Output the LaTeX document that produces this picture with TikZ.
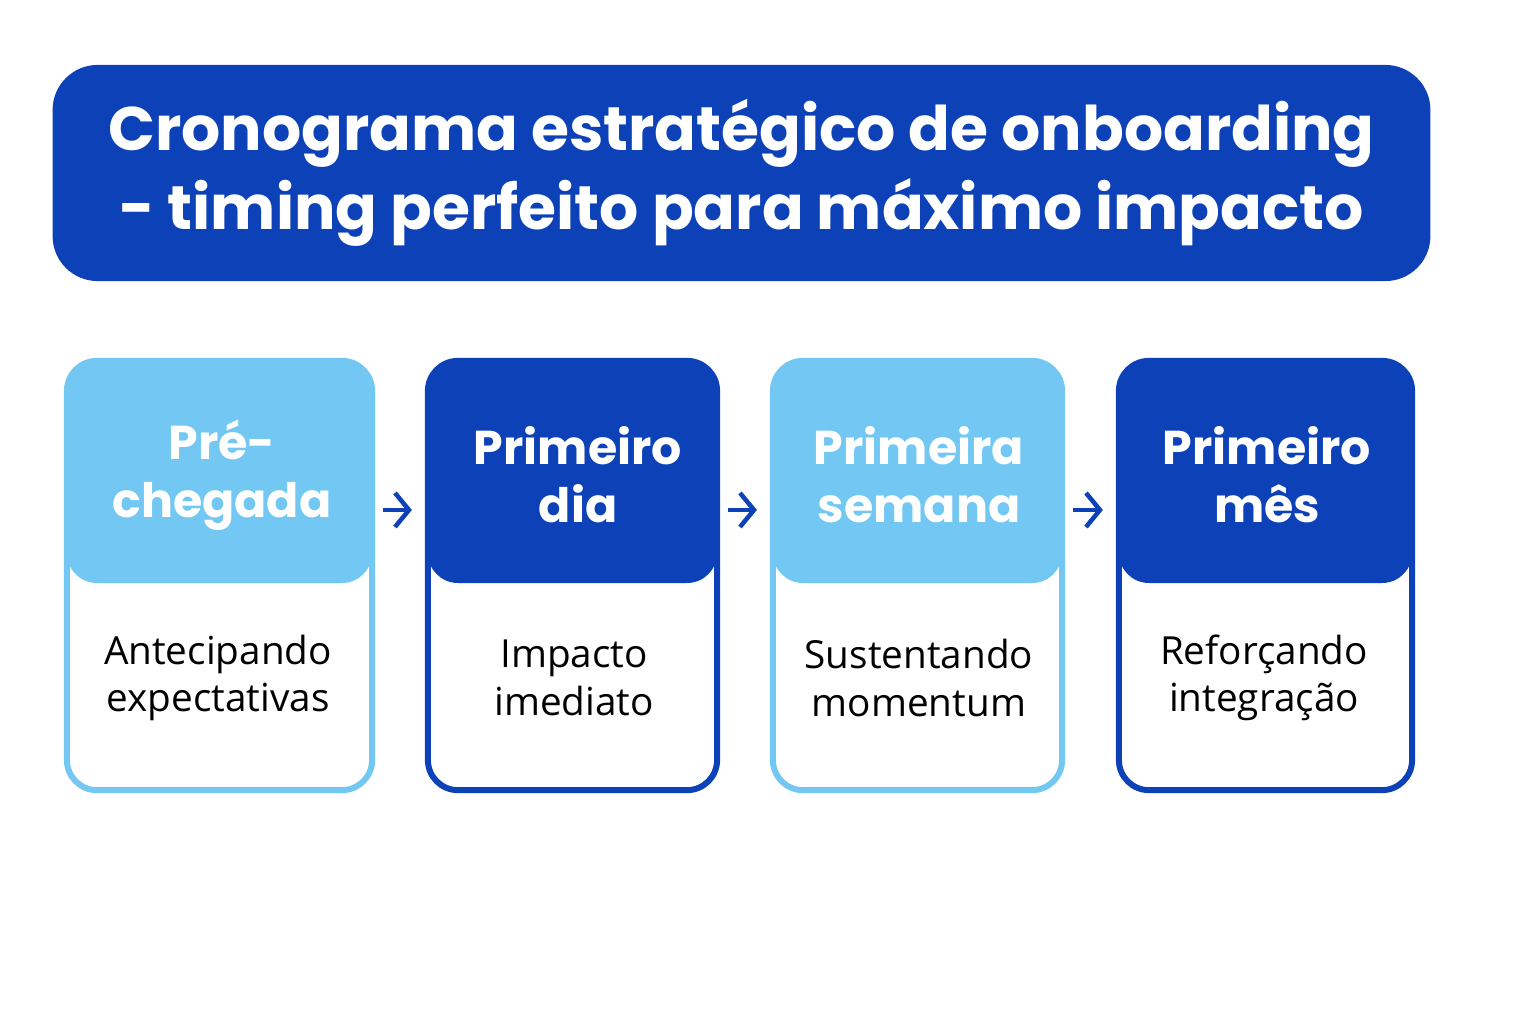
\documentclass[tikz,border=0pt]{standalone}
\usepackage{fontspec}
\setmainfont{Open Sans}
\newfontfamily\headfont{Poppins}
\usetikzlibrary{arrows.meta}
\definecolor{darkblue}{HTML}{0D41B8}
\definecolor{lightblue}{HTML}{72C8F2}
\begin{document}
\begin{tikzpicture}[x=0.01cm,y=-0.01cm,
      phase/.style={rectangle, rounded corners=0.3cm, line width=0.06cm, fill=white, minimum height=4.29cm,
        path picture={\fill[#1] (path picture bounding box.north west) rectangle ([yshift=-2.22cm]path picture bounding box.north east);}, draw=#1},
      head/.style={text=white, font=\headfont\bfseries\fontsize{13.5}{16.5}\selectfont, align=center},
      body/.style={text=black, font=\fontsize{11}{13.5}\selectfont, align=center},
      step arrow/.style={-{Straight Barb[length=0.14cm,width=0.34cm]}, draw=darkblue, line width=0.045cm, shorten <=0.08cm, shorten >=0.13cm}]
      \useasboundingbox (0,0) rectangle (1536,1024);
      \node[fill=darkblue, rounded corners=0.45cm, minimum width=13.77cm, minimum height=2.16cm,
        text=white, font=\headfont\bfseries\fontsize{17.5}{22.5}\selectfont, align=center](title) at (741.5,173)
        {Cronograma estratégico de onboarding\\ - timing perfeito para máximo impacto};
      \node[phase=lightblue, minimum width=3.05cm](b1) at (219.5,575.5){};
      \node[phase=darkblue, minimum width=2.89cm](b2) at (572.5,575.5){};
      \node[phase=lightblue, minimum width=2.89cm](b3) at (917.5,575.5){};
      \node[phase=darkblue, minimum width=2.93cm](b4) at (1265.5,575.5){};
      \node[head](h1) at (222,475){Pré-\\chegada};
      \node[head](h2) at (578,475){Primeiro\\dia};
      \node[head](h3) at (919,475){Primeira\\semana};
      \node[head](h4) at (1267,475){Primeiro\\mês};
      \node[body](t1) at (218,678){Antecipando\\expectativas};
      \node[body](t2) at (574,678){Impacto\\imediato};
      \node[body](t3) at (919,678){Sustentando\\momentum};
      \node[body](t4) at (1264,678){Reforçando\\integração};
      \draw[step arrow] ([yshift=0.655cm]b1.east) -- ([yshift=0.655cm]b2.west);
      \draw[step arrow] ([yshift=0.655cm]b2.east) -- ([yshift=0.655cm]b3.west);
      \draw[step arrow] ([yshift=0.655cm]b3.east) -- ([yshift=0.655cm]b4.west);
    \end{tikzpicture}
\end{document}
